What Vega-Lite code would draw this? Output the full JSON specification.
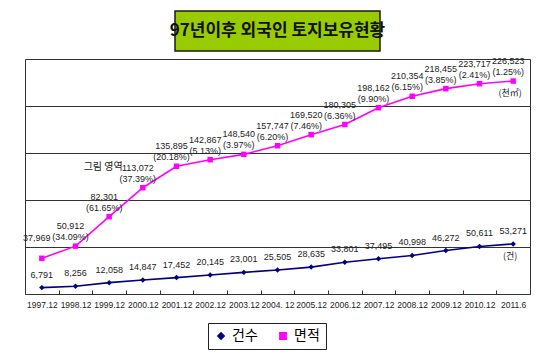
{
  "$schema": "https://vega.github.io/schema/vega-lite/v6.json",
  "background": "white",
  "padding": {"left": 22, "top": 10, "right": 5, "bottom": 5},
  "spacing": 8,
  "center": true,
  "bounds": "flush",
  "datasets": {
    "main": [
      {"period": "1997.12", "series": "건수", "value": 6791},
      {"period": "1998.12", "series": "건수", "value": 8256},
      {"period": "1999.12", "series": "건수", "value": 12058},
      {"period": "2000.12", "series": "건수", "value": 14847},
      {"period": "2001.12", "series": "건수", "value": 17452},
      {"period": "2002.12", "series": "건수", "value": 20145},
      {"period": "2003.12", "series": "건수", "value": 23001},
      {"period": "2004. 12", "series": "건수", "value": 25505},
      {"period": "2005.12", "series": "건수", "value": 28635},
      {"period": "2006.12", "series": "건수", "value": 33801},
      {"period": "2007.12", "series": "건수", "value": 37495},
      {"period": "2008.12", "series": "건수", "value": 40998},
      {"period": "2009.12", "series": "건수", "value": 46272},
      {"period": "2010.12", "series": "건수", "value": 50611},
      {"period": "2011.6", "series": "건수", "value": 53271, "unit": "(건)"},
      {"period": "1997.12", "series": "면적", "value": 37969},
      {"period": "1998.12", "series": "면적", "value": 50912, "pct": "(34.09%)"},
      {"period": "1999.12", "series": "면적", "value": 82301, "pct": "(61.65%)"},
      {"period": "2000.12", "series": "면적", "value": 113072, "pct": "(37.39%)"},
      {"period": "2001.12", "series": "면적", "value": 135895, "pct": "(20.18%)"},
      {"period": "2002.12", "series": "면적", "value": 142867, "pct": "(5.13%)"},
      {"period": "2003.12", "series": "면적", "value": 148540, "pct": "(3.97%)"},
      {"period": "2004. 12", "series": "면적", "value": 157747, "pct": "(6.20%)"},
      {"period": "2005.12", "series": "면적", "value": 169520, "pct": "(7.46%)"},
      {"period": "2006.12", "series": "면적", "value": 180305, "pct": "(6.36%)"},
      {"period": "2007.12", "series": "면적", "value": 198162, "pct": "(9.90%)"},
      {"period": "2008.12", "series": "면적", "value": 210354, "pct": "(6.15%)"},
      {"period": "2009.12", "series": "면적", "value": 218455, "pct": "(3.85%)"},
      {"period": "2010.12", "series": "면적", "value": 223717, "pct": "(2.41%)"},
      {"period": "2011.6", "series": "면적", "value": 226523, "pct": "(1.25%)", "unit": "(천㎡)"}
    ]
  },
  "vconcat": [
    {
      "width": 205,
      "height": 40,
      "data": {"values": [{"title": "97년이후 외국인 토지보유현황", "px": 0.5, "py": 0.5}]},
      "view": {"fill": "#99CC00", "stroke": "#1a1a1a", "strokeWidth": 1.5},
      "mark": {"type": "text", "fontSize": 17, "font": "Noto Sans CJK KR", "fontWeight": "bold", "color": "#111", "baseline": "middle", "align": "center"},
      "encoding": {
        "text": {"field": "title", "type": "nominal"},
        "x": {"field": "px", "type": "quantitative", "scale": {"domain": [0, 1]}, "axis": null},
        "y": {"field": "py", "type": "quantitative", "scale": {"domain": [0, 1]}, "axis": null}
      }
    },
    {
      "width": 505,
      "height": 235,
      "data": {"name": "main"},
      "view": {"stroke": "#333", "strokeWidth": 1},
      "encoding": {
        "x": {
          "field": "period", "type": "ordinal", "sort": null,
          "scale": {"type": "band", "paddingInner": 0, "paddingOuter": 0},
          "bandPosition": 0.5,
          "axis": {"title": null, "labelAngle": 0, "tickBand": "extent", "domain": false,
                   "labelFont": "Liberation Sans", "labelFontSize": 8.5, "labelColor": "#222",
                   "tickColor": "#333", "tickSize": -4, "labelPadding": 10}
        },
        "y": {
          "field": "value", "type": "quantitative",
          "scale": {"domain": [0, 250000], "nice": false},
          "axis": {"title": null, "labels": false, "ticks": false, "domain": false, "grid": true,
                   "gridColor": "#333", "gridWidth": 1, "values": [50000, 100000, 150000, 200000]}
        },
        "color": {"field": "series", "type": "nominal",
                  "scale": {"domain": ["건수", "면적"], "range": ["#000080", "#FF00FF"]},
                  "legend": {"orient": "none", "legendX": 183, "legendY": 312, "direction": "horizontal", "title": null,
                             "strokeColor": "#222", "padding": 6, "labelFont": "Noto Sans CJK KR", "labelFontSize": 14,
                             "columnPadding": 18, "symbolSize": 40}}
      },
      "layer": [
        {
          "mark": {"type": "line", "strokeWidth": 1.6}
        },
        {
          "mark": {"type": "point", "filled": true, "size": 30, "opacity": 1},
          "encoding": {
            "shape": {"field": "series", "type": "nominal",
                      "scale": {"domain": ["건수", "면적"], "range": ["diamond", "square"]},
                      "legend": {"orient": "none", "legendX": 183, "legendY": 312, "direction": "horizontal", "title": null,
                                 "strokeColor": "#222", "padding": 6, "labelFont": "Noto Sans CJK KR", "labelFontSize": 14,
                                 "columnPadding": 18, "symbolSize": 40}}
          }
        },
        {
          "transform": [{"filter": "datum.series === '건수'"}],
          "mark": {"type": "text", "baseline": "bottom", "dy": -8, "fontSize": 9, "font": "Liberation Sans", "color": "#222"},
          "encoding": {"text": {"field": "value", "type": "quantitative", "format": ","}, "color": {"value": "#222"}}
        },
        {
          "transform": [{"filter": "datum.series === '면적'"}],
          "mark": {"type": "text", "baseline": "bottom", "dy": -15, "dx": -5, "fontSize": 9, "font": "Liberation Sans", "color": "#222"},
          "encoding": {"text": {"field": "value", "type": "quantitative", "format": ","}, "color": {"value": "#222"}}
        },
        {
          "transform": [{"filter": "datum.pct != null"}],
          "mark": {"type": "text", "baseline": "bottom", "dy": -4, "dx": -5, "fontSize": 9, "font": "Liberation Sans", "color": "#222"},
          "encoding": {"text": {"field": "pct", "type": "nominal"}, "color": {"value": "#222"}}
        },
        {
          "transform": [{"filter": "datum.unit != null"}],
          "mark": {"type": "text", "baseline": "top", "dy": 8, "dx": -3, "fontSize": 9, "font": "Noto Sans CJK KR", "color": "#222"},
          "encoding": {"text": {"field": "unit", "type": "nominal"}, "color": {"value": "#222"}}
        },
        {
          "data": {"values": [{"period": "1999.12", "value": 135000, "note": "그림 영역"}]},
          "mark": {"type": "text", "fontSize": 10, "dx": -6, "font": "Noto Sans CJK KR", "color": "#222"},
          "encoding": {"text": {"field": "note", "type": "nominal"}, "color": {"value": "#222"}}
        }
      ]
    }
  ]
}
